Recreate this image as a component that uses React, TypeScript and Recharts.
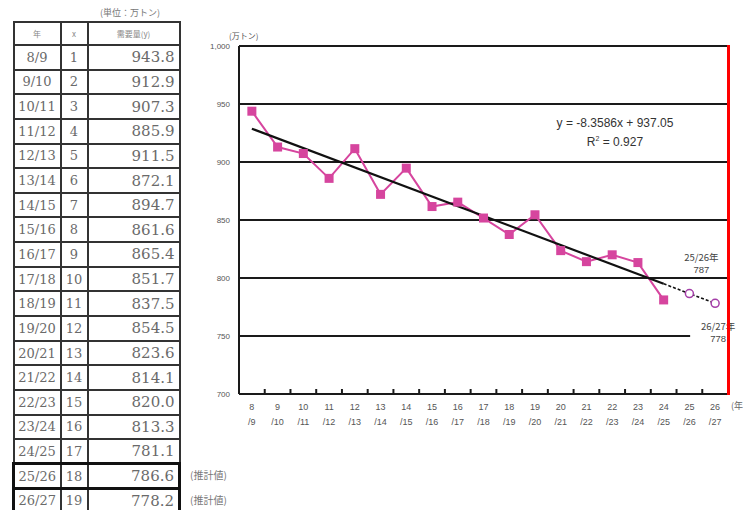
import {
  ComposedChart,
  Line,
  XAxis,
  YAxis,
  CartesianGrid,
  LabelList,
  ReferenceLine,
} from "recharts";

// fiscal years (x = 1..19) and demand (万トン); last two are estimates
const years = [
  "8/9", "9/10", "10/11", "11/12", "12/13", "13/14", "14/15", "15/16", "16/17", "17/18",
  "18/19", "19/20", "20/21", "21/22", "22/23", "23/24", "24/25", "25/26", "26/27",
];
const xIndex = [1, 2, 3, 4, 5, 6, 7, 8, 9, 10, 11, 12, 13, 14, 15, 16, 17, 18, 19];
const demand = [
  943.8, 912.9, 907.3, 885.9, 911.5, 872.1, 894.7, 861.6, 865.4, 851.7,
  837.5, 854.5, 823.6, 814.1, 820.0, 813.3, 781.1, 786.6, 778.2,
];
const actualCount = 17;

// regression line: solid part, then dashed projection
const trendX = [1, 17];
const trendY = [928.7, 795.0];
const projX = [17, 18, 19];
const projY = [795.0, 786.6, 778.2];

const xDomain = [0.5, 19.5];
const yDomain = [700, 1000];
const yTicks = [700, 750, 800, 850, 900, 950, 1000];

const actualData = xIndex.slice(0, actualCount).map((x, i) => ({ x, y: demand[i] }));
const estData = xIndex.slice(actualCount).map((x, i) => ({ x, y: demand[actualCount + i] }));
const trendData = trendX.map((x, i) => ({ x, y: trendY[i] }));
const projData = projX.map((x, i) => ({ x, y: projY[i] }));
// category centres plus the boundaries between them (for the small tick marks)
const xTicks = xIndex.flatMap((x) => (x < xIndex.length ? [x, x + 0.5] : [x]));

const ink = "#1a1a1a";
const pink = "#d6459e";

const chartLeft = 190;
const chartW = 553;
const chartH = 510;
const margin = { top: 46, right: 15, left: 0, bottom: 76 };
const yAxisW = 49;
const xAxisH = 40;

const XTick = (props: any) => {
  const { x, y, payload } = props;
  const v = payload.value;
  if (!Number.isInteger(v)) {
    return <line x1={x} x2={x} y1={y} y2={y - 5} stroke={ink} strokeWidth={2} />;
  }
  const [a, b] = years[v - 1].split("/");
  return (
    <text x={x} y={y} textAnchor="middle" fontSize={9} fill="#555" fontFamily="'Liberation Sans', sans-serif">
      <tspan x={x} dy={16}>{a}</tspan>
      <tspan x={x} dy={15}>/{b}</tspan>
    </text>
  );
};

const SquareDot = (props: any) => {
  const { cx, cy } = props;
  if (cx == null || cy == null) return null;
  return <rect x={cx - 4.5} y={cy - 4.5} width={9} height={9} fill={pink} />;
};

const EstLabel = (props: any) => {
  const { x, y, index } = props;
  const name = years[actualCount + index] + "年";
  const val = Math.round(demand[actualCount + index]);
  const nameStyle = { fontSize: 9.5, fill: "#444", fontFamily: "'Noto Sans CJK JP', sans-serif" };
  const valStyle = { fontSize: 9.5, fill: "#444", fontFamily: "'Liberation Sans', sans-serif" };
  const cx = index === 0 ? x + 12 : x + 3;
  const top = index === 0 ? y - 33 : y + 27;
  return (
    <g>
      {index > 0 && <rect x={x - 25} y={y + 15} width={56} height={33} fill="#fff" />}
      <text x={cx} y={top} textAnchor="middle" {...nameStyle}>
        {name}
      </text>
      <text x={cx} y={top + 12} textAnchor="middle" {...valStyle}>
        {val}
      </text>
    </g>
  );
};

function DemandTable() {
  const cell = { border: "2px solid #333", padding: 0 } as const;
  const bold = "3px solid #111";
  return (
    <>
      <div style={{ position: "absolute", left: 100, top: 6, fontSize: 9, color: "#777" }}>
        (単位：万トン)
      </div>
      <table
        style={{
          position: "absolute",
          left: 12,
          top: 21,
          width: 166,
          borderCollapse: "collapse",
          tableLayout: "fixed",
          color: "#6a6a6a",
          fontFamily: "'DejaVu Serif', serif",
        }}
      >
        <colgroup>
          <col style={{ width: 47 }} />
          <col style={{ width: 27 }} />
          <col style={{ width: 92 }} />
        </colgroup>
        <tbody>
          <tr style={{ height: 23 }}>
            {["年", "x", "需要量(y)"].map((h) => (
              <td
                key={h}
                style={{ ...cell, textAlign: "center", fontSize: 8, color: "#888", fontFamily: "'Noto Sans CJK JP', sans-serif" }}
              >
                {h}
              </td>
            ))}
          </tr>
          {years.map((yr, i) => {
            const est = i >= actualCount;
            const tb = est ? { borderTop: bold, borderBottom: bold } : {};
            return (
              <tr key={yr} style={{ height: 24.65 }}>
                <td style={{ ...cell, ...tb, ...(est ? { borderLeft: bold } : {}), textAlign: "center", fontSize: 13 }}>
                  {yr}
                </td>
                <td style={{ ...cell, ...tb, textAlign: "center", fontSize: 13 }}>{xIndex[i]}</td>
                <td
                  style={{
                    ...cell,
                    ...tb,
                    ...(est ? { borderRight: bold } : {}),
                    textAlign: "right",
                    paddingRight: 4,
                    fontSize: 15,
                  }}
                >
                  {demand[i].toFixed(1)}
                </td>
              </tr>
            );
          })}
        </tbody>
      </table>
      {years.slice(actualCount).map((yr, i) => (
        <div
          key={yr}
          style={{
            position: "absolute",
            left: 190,
            top: 467 + i * 24.65,
            fontSize: 10,
            color: "#777",
          }}
        >
          (推計値)
        </div>
      ))}
    </>
  );
}

export default function App() {
  const plotLeft = chartLeft + margin.left + yAxisW;
  const plotW = chartW - margin.left - margin.right - yAxisW;
  const plotH = chartH - margin.top - margin.bottom - xAxisH;
  return (
    <div
      style={{
        position: "absolute",
        left: 0,
        top: 0,
        width: 743,
        height: 510,
        overflow: "hidden",
        background: "#fff",
        fontFamily: "'Noto Sans CJK JP', sans-serif",
      }}
    >
      <DemandTable />
      <div style={{ position: "absolute", left: chartLeft, top: 0 }}>
        <ComposedChart width={chartW} height={chartH} margin={margin}>
          <CartesianGrid vertical={false} stroke={ink} strokeWidth={2} />
          <XAxis
            type="number"
            dataKey="x"
            domain={xDomain}
            ticks={xTicks}
            interval={0}
            tick={<XTick />}
            tickLine={false}
            tickSize={0}
            tickMargin={0}
            height={xAxisH}
            axisLine={{ stroke: ink, strokeWidth: 2 }}
          />
          <YAxis
            type="number"
            domain={yDomain}
            ticks={yTicks}
            interval={0}
            width={yAxisW}
            tickLine={false}
            tickSize={0}
            tickMargin={9}
            tickFormatter={(v: number) => v.toLocaleString("en-US")}
            tick={{ fontSize: 8, fill: "#555", fontFamily: "'Liberation Sans', sans-serif" }}
            axisLine={{ stroke: ink, strokeWidth: 2 }}
          />
          <ReferenceLine x={xDomain[1]} stroke={ink} strokeWidth={2} ifOverflow="visible" />
          <Line
            data={actualData}
            dataKey="y"
            stroke={pink}
            strokeWidth={2}
            dot={<SquareDot />}
            isAnimationActive={false}
          />
          <Line data={trendData} dataKey="y" stroke="#111" strokeWidth={2.2} dot={false} isAnimationActive={false} />
          <Line
            data={projData}
            dataKey="y"
            stroke="#111"
            strokeWidth={1.6}
            strokeDasharray="3 2"
            dot={false}
            isAnimationActive={false}
          />
          <Line
            data={estData}
            dataKey="y"
            stroke="none"
            dot={{ r: 4, stroke: "#a43ea8", strokeWidth: 1.5, fill: "#fff" }}
            isAnimationActive={false}
          >
            <LabelList dataKey="y" content={<EstLabel />} />
          </Line>
        </ComposedChart>
      </div>
      {/* plot box right edge, drawn above the svg */}
      <div
        style={{
          position: "absolute",
          left: plotLeft + plotW - 1,
          top: margin.top - 1,
          width: 3,
          height: plotH + 2,
          background: "red",
        }}
      />
      <div style={{ position: "absolute", left: 229, top: 30, fontSize: 8, color: "#555" }}>(万トン)</div>
      <div style={{ position: "absolute", left: 731, top: 399, fontSize: 9, color: "#666" }}>(年</div>
      <div
        style={{
          position: "absolute",
          left: 540,
          top: 114,
          width: 150,
          textAlign: "center",
          fontSize: 12,
          lineHeight: "19px",
          color: "#333",
          fontFamily: "'Liberation Sans', sans-serif",
        }}
      >
        <div>y = -8.3586x + 937.05</div>
        <div>
          R<sup style={{ fontSize: 7, lineHeight: 0 }}>2</sup> = 0.927
        </div>
      </div>
    </div>
  );
}
